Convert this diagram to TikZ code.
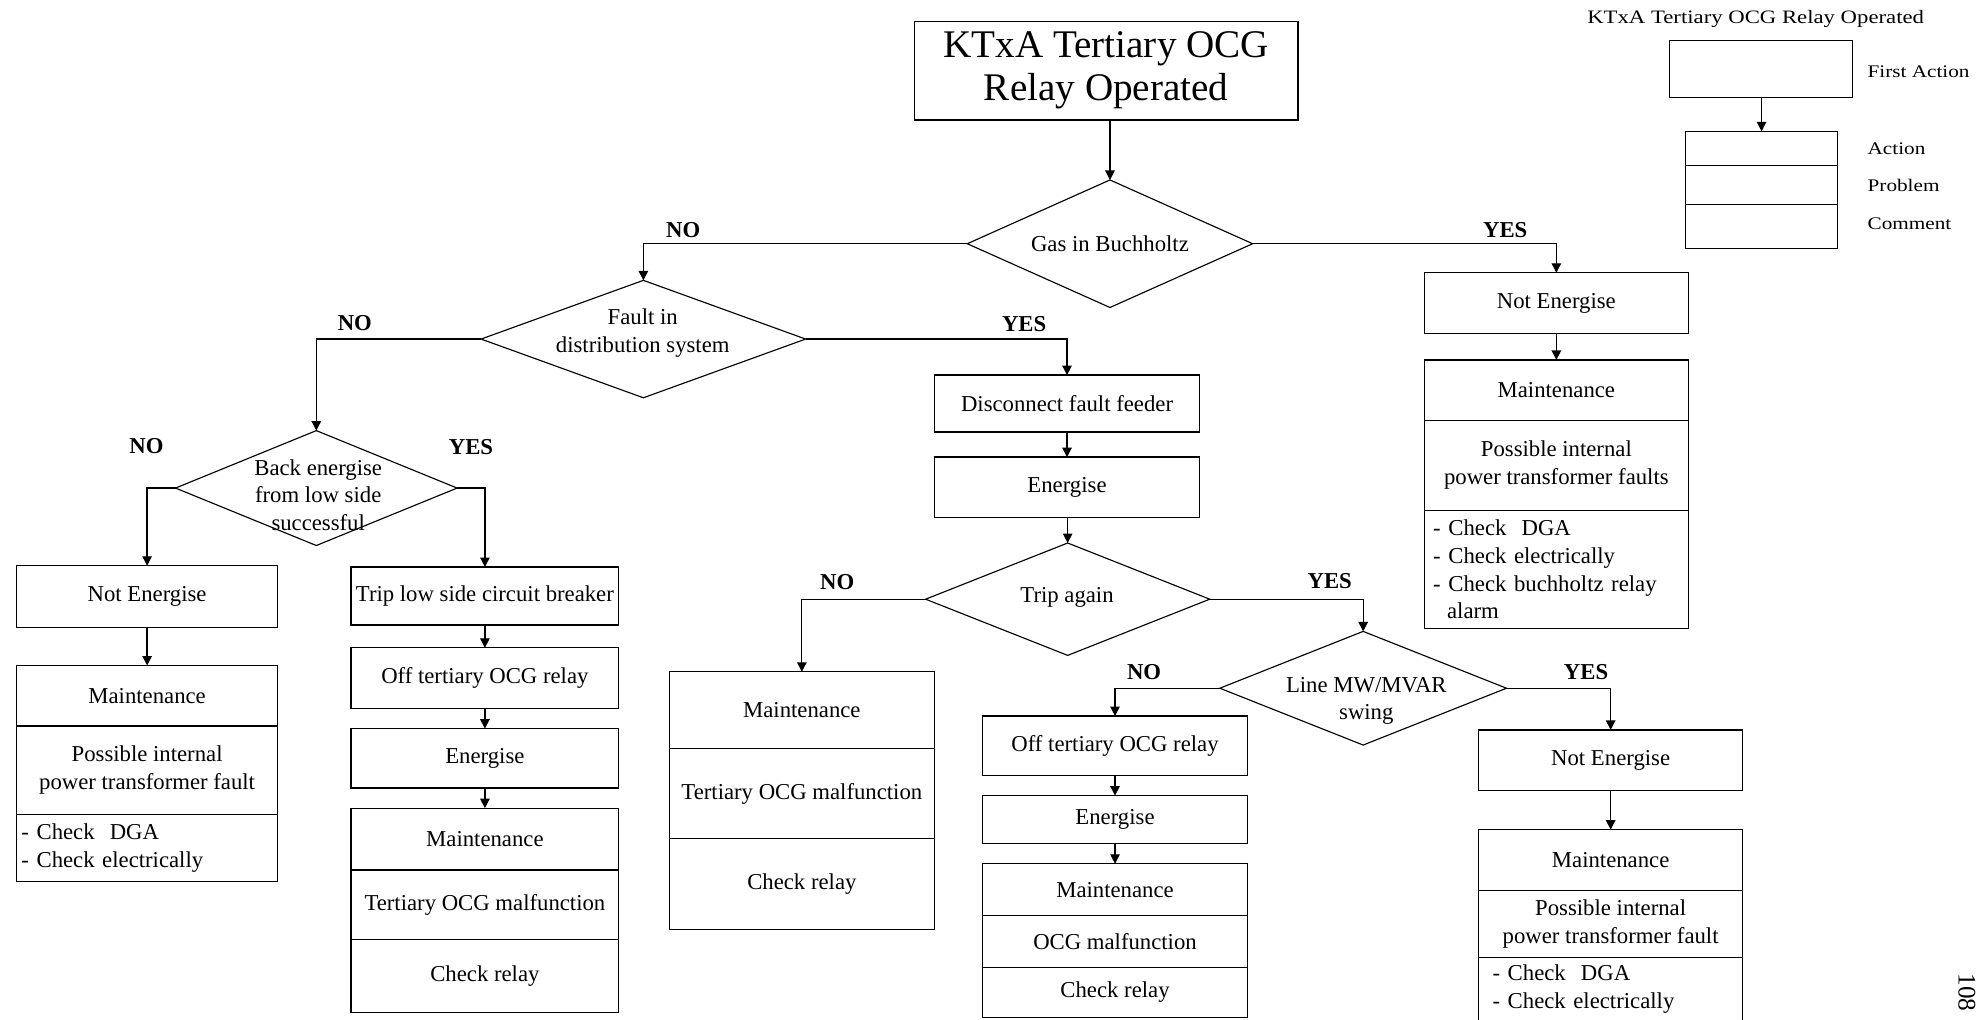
\documentclass[tikz,border=0pt]{standalone}
\usepackage{fontspec}
\setmainfont{Liberation Serif}
\newfontfamily\legendfont[FakeStretch=1.2]{Liberation Serif}
\usetikzlibrary{shapes.geometric,arrows.meta}

\begin{document}
\begin{tikzpicture}[x=1pt,y=-1pt,
  every node/.style={inner sep=0pt, outer sep=0pt},
  txt/.style={font=\fontsize{18}{22}\selectfont, align=center},
  box/.style={draw, line width=1pt, anchor=north west, txt},
  listbox/.style={box, align=left, inner xsep=#1},
  dia/.style={draw, diamond, line width=0.9pt},
  lbl/.style={font=\bfseries\fontsize{18}{22}\selectfont},
  flow/.style={line width=1pt, -{Triangle[length=7.5pt,width=7.5pt]}},
  leg/.style={font=\legendfont\fontsize{14}{16}\selectfont, anchor=west},
]
\path[use as bounding box, fill=white] (0,0) rectangle (1568,807);

% ---- start of the procedure
\node[box, minimum width=304, minimum height=78, font=\fontsize{31}{34}\selectfont]
  (title) at (724,17) {KTxA Tertiary OCG\\Relay Operated};

% ---- decisions
\node[dia, minimum width=226, minimum height=101] (gas)   at (879,193) {};
\node[dia, minimum width=257, minimum height=93]  (fault) at (509.5,268.5) {};
\node[dia, minimum width=223, minimum height=91]  (back)  at (250.5,386.5) {};
\node[dia, minimum width=225, minimum height=89]  (trip)  at (845.5,474.5) {};
\node[dia, minimum width=227, minimum height=90]  (line)  at (1079.5,545) {};

\node[txt] (gastxt)   at (879,193) {Gas in Buchholtz};
\node[txt] (faulttxt) at (509,264) {Fault in\\distribution system};
\node[txt] (backtxt)  at (252,392) {Back energise\\from low side\\successful};
\node[txt] (triptxt)  at (845,473) {Trip again};
\node[txt] (linetxt)  at (1082,555) {Line MW/MVAR\\swing};

% ---- branch labels
\node[lbl] (gasno)    at (541,182)  {NO};
\node[lbl] (gasyes)   at (1192,182) {YES};
\node[lbl] (faultno)  at (281,256)  {NO};
\node[lbl] (faultyes) at (811,257)  {YES};
\node[lbl] (backno)   at (116,353)  {NO};
\node[lbl] (backyes)  at (373,354)  {YES};
\node[lbl] (tripno)   at (663,461)  {NO};
\node[lbl] (tripyes)  at (1053,460) {YES};
\node[lbl] (lineno)   at (906,532)  {NO};
\node[lbl] (lineyes)  at (1256,532) {YES};

% ---- back energise: NO
\node[box, minimum width=207, minimum height=49] (ne1) at (13,448) {Not Energise};
\node[box, minimum width=207, minimum height=48] (m1a) at (13,527) {Maintenance};
\node[box, minimum width=207, minimum height=70] (m1b) at (13,575) {Possible internal\\power transformer fault};
\node[listbox=4pt, text width=199pt, minimum height=53] (m1c) at (13,645) {- Check~ DGA\\- Check electrically};

% ---- back energise: YES
\node[box, minimum width=212, minimum height=46] (tripcb) at (278,449) {Trip low side circuit breaker};
\node[box, minimum width=212, minimum height=48] (off1)   at (278,513) {Off tertiary OCG relay};
\node[box, minimum width=212, minimum height=47] (ener1)  at (278,577) {Energise};
\node[box, minimum width=212, minimum height=49] (m2a)    at (278,640) {Maintenance};
\node[box, minimum width=212, minimum height=55] (m2b)    at (278,689) {Tertiary OCG malfunction};
\node[box, minimum width=212, minimum height=58] (m2c)    at (278,744) {Check relay};

% ---- fault in distribution system: YES
\node[box, minimum width=210, minimum height=45] (disc)  at (740,297) {Disconnect fault feeder};
\node[box, minimum width=210, minimum height=48] (ener2) at (740,362) {Energise};

% ---- trip again: NO
\node[box, minimum width=210, minimum height=61] (m3a) at (530,532) {Maintenance};
\node[box, minimum width=210, minimum height=71] (m3b) at (530,593) {Tertiary OCG malfunction};
\node[box, minimum width=210, minimum height=72] (m3c) at (530,664) {Check relay};

% ---- line swing: NO
\node[box, minimum width=210, minimum height=47] (off2)  at (778,567) {Off tertiary OCG relay};
\node[box, minimum width=210, minimum height=38] (ener3) at (778,630) {Energise};
\node[box, minimum width=210, minimum height=41] (m4a)   at (778,684) {Maintenance};
\node[box, minimum width=210, minimum height=41] (m4b)   at (778,725) {OCG malfunction};
\node[box, minimum width=210, minimum height=40] (m4c)   at (778,766) {Check relay};

% ---- line swing: YES
\node[box, minimum width=209, minimum height=48] (ne3) at (1171,578) {Not Energise};
\node[box, minimum width=209, minimum height=48] (m5a) at (1171,657) {Maintenance};
\node[box, minimum width=209, minimum height=53] (m5b) at (1171,705) {Possible internal\\power transformer fault};
\node[listbox=11pt, text width=187pt, minimum height=50] (m5c) at (1171,758) {- Check~ DGA\\- Check electrically};

% ---- gas in buchholtz: YES
\node[box, minimum width=209, minimum height=48] (ne2) at (1128,216) {Not Energise};
\node[box, minimum width=209, minimum height=48] (m6a) at (1128,285) {Maintenance};
\node[box, minimum width=209, minimum height=71] (m6b) at (1128,333) {Possible internal\\power transformer faults};
\node[listbox=7pt, text width=195pt, minimum height=94] (m6c) at (1128,404)
  {- Check~ DGA\\- Check electrically\\- Check buchholtz relay\\\hspace*{11pt}alarm};

% ---- connectors
\draw[flow] (title.south -| gas.north) -- (gas.north);
\draw[flow] (gas.west) -| (fault.north);
\draw[flow] (gas.east) -| (ne2.north);
\draw[flow] (ne2.south) -- (m6a.north);
\draw[flow] (fault.west) -| (back.north);
\draw[flow] (fault.east) -| (disc.north);
\draw[flow] (back.west) -| (ne1.north);
\draw[flow] (back.east) -| (tripcb.north);
\draw[flow] (ne1.south) -- (m1a.north);
\draw[flow] (tripcb.south) -- (off1.north);
\draw[flow] (off1.south) -- (ener1.north);
\draw[flow] (ener1.south) -- (m2a.north);
\draw[flow] (disc.south) -- (ener2.north);
\draw[flow] (ener2.south -| trip.north) -- (trip.north);
\draw[flow] (trip.west) -| (m3a.north);
\draw[flow] (trip.east) -| (line.north);
\draw[flow] (line.west) -| (off2.north);
\draw[flow] (line.east) -| (ne3.north);
\draw[flow] (off2.south) -- (ener3.north);
\draw[flow] (ener3.south) -- (m4a.north);
\draw[flow] (ne3.south) -- (m5a.north);

% ---- key
\node[leg, font=\legendfont\fontsize{15}{16}\selectfont, anchor=base west] (legtitle) at (1257,19) {KTxA Tertiary OCG Relay Operated};
\node[box, minimum width=145, minimum height=45] (lfirst) at (1322,32) {};
\node[box, minimum width=120, minimum height=27] (lact)   at (1335,104) {};
\node[box, minimum width=120, minimum height=31] (lprob)  at (1335,131) {};
\node[box, minimum width=120, minimum height=35] (lcom)   at (1335,162) {};
\draw[flow] (lfirst.south -| lact.north) -- (lact.north);
\node[leg] (lfirsttxt) at (1479,57)  {First Action};
\node[leg] (lacttxt)   at (1479,118) {Action};
\node[leg] (lprobtxt)  at (1479,147) {Problem};
\node[leg] (lcomtxt)   at (1479,177) {Comment};

% ---- page number
\node[font=\fontsize{20}{20}\selectfont, rotate=-90, anchor=base west] (pgno) at (1551,771) {108};
\end{tikzpicture}
\end{document}
